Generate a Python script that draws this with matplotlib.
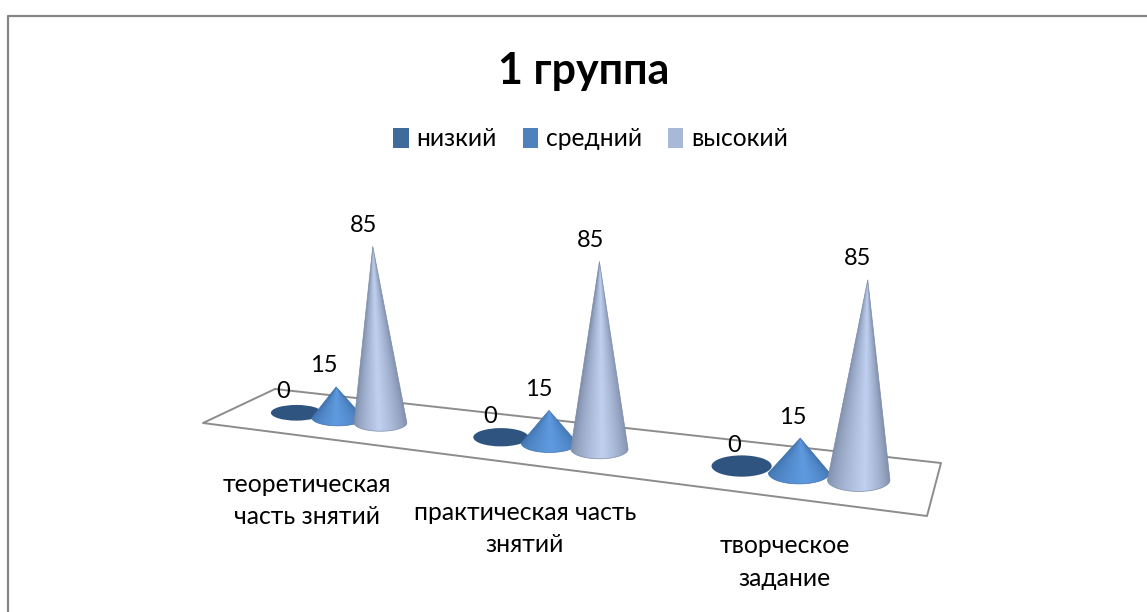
import numpy as np
import matplotlib
matplotlib.use('Agg')
import matplotlib.pyplot as plt
from matplotlib.patches import Ellipse, Patch, Polygon
from matplotlib.colors import to_rgb

plt.rcParams['font.family'] = ['Lato', 'Open Sans', 'DejaVu Sans']

categories = ['теоретическая\nчасть знятий', 'практическая часть\nзнятий', 'творческое\nзадание']
series = ['низкий', 'средний', 'высокий']
values = {
    'низкий': [0, 0, 0],
    'средний': [15, 15, 15],
    'высокий': [85, 85, 85],
}
title = '1 группа'

W, H = 1147, 612
# floor of the 3d box in pixels: back left, back right, front right, front left
floor = np.array([[275, 389], [941, 463], [927, 516], [203, 423]], dtype=float)
legend_colors = ['#3f6a9c', '#4f81bd', '#a8b8d8']
edge_colors = ['#2f5480', '#3f72ad', '#7d8ca8']
mid_colors = ['#2f5480', '#5f9ae0', '#c0d0f0']


def floor_matrix(pts):
    # homography from the unit square (u along categories, v back to front)
    src = [(0, 0), (1, 0), (1, 1), (0, 1)]
    A, b = [], []
    for (u, v), (x, y) in zip(src, pts):
        A.append([u, v, 1, 0, 0, 0, -u * x, -v * x])
        A.append([0, 0, 0, u, v, 1, -u * y, -v * y])
        b += [x, y]
    return np.append(np.linalg.solve(np.array(A), np.array(b)), 1).reshape(3, 3)


M = floor_matrix(floor)


def project(u, v):
    x, y, w = M @ np.array([u, v, 1.0])
    return x / w, y / w, 1.0 / w


def draw_cone(ax, cx, cy, rx, ry, height, lean, edge, mid, peak):
    edge = np.array(to_rgb(edge))
    mid = np.array(to_rgb(mid))
    if height == 0:
        ax.add_patch(Ellipse((cx, cy), 2 * rx, 2 * ry, fc=edge, ec='none', zorder=cx))
        return
    tx, ty = cx + lean, cy - height
    theta = np.linspace(np.pi, 0, 61)
    outline = np.column_stack([cx + rx * np.cos(theta), cy + ry * np.sin(theta)])
    outline = np.vstack([[tx, ty], outline])

    # shading runs along the cone's generators, so it narrows towards the tip
    x0, x1 = min(cx - rx, tx) - 1, max(cx + rx, tx) + 1
    y0, y1 = ty - 1, cy + ry + 1
    X, Y = np.meshgrid(np.arange(x0, x1, 0.5), np.arange(y0, y1, 0.5))
    frac = np.clip((Y - ty) / height, 0.01, None)
    t = np.clip((tx + (X - tx) / frac - (cx - rx)) / (2 * rx), 0, 1)
    d = np.where(t < peak, t / peak, (1 - t) / (1 - peak)) ** 0.7
    img = edge + (mid - edge) * d[..., None]
    im = ax.imshow(img, extent=(x0, x1, y1, y0), aspect='auto', interpolation='bilinear', zorder=cx)
    poly = Polygon(outline, closed=True, transform=ax.transData, fc='none', ec=edge,
                   lw=0.5, zorder=cx + 0.1)
    ax.add_patch(poly)
    im.set_clip_path(poly)


fig = plt.figure(figsize=(W / 100, H / 100), dpi=100)
ax = fig.add_axes([0, 0, 1, 1])

# chart frame, only left and top are inside the crop
ax.plot([7.5, 7.5, W], [H, 15.5, 15.5], color='#868686', lw=1.6, zorder=1)
ax.plot(*np.vstack([floor, floor[:1]]).T, color='#8c8c8c', lw=1.4, zorder=2)

ref_scale = project(0.5, 0.5)[2]
for c in range(len(categories)):
    for s, name in enumerate(series):
        u = (c + 0.525 + (s - 1) * 0.215) / len(categories)
        cx, cy, w = project(u, 0.52)
        scale = w / ref_scale
        rx = 28 * scale
        ry = rx * (0.30 + 0.07 * u)
        val = values[name][c]
        height = val * 2.17 * scale ** 0.75
        lean = (cx - 600) * 0.035 * val / 85
        draw_cone(ax, cx, cy, rx, ry, height, lean, edge_colors[s], mid_colors[s], 0.42 + 0.2 * u)
        ax.text(cx + 0.6 * lean - 14 + 8 * u, cy - height - 21, str(val), fontsize=17,
                ha='center', va='center', color='black', zorder=2000)
    fx, fy, _ = project((c + 0.5) / len(categories), 1)
    ax.text(fx + 7, fy + 65, categories[c], fontsize=17.8, ha='center', va='center',
            linespacing=1.5, color='black', zorder=2000)

ax.set_xlim(0, W)
ax.set_ylim(H, 0)
ax.axis('off')

ax.text(584, 71, title, fontsize=31, fontweight='bold', ha='center', va='center')
handles = [Patch(fc=col, ec='none', label=n) for col, n in zip(legend_colors, series)]
ax.legend(handles=handles, loc='center', bbox_to_anchor=(590.5 / W, 1 - 139 / H), ncols=3,
          frameon=False, fontsize=17.7, handlelength=0.64, handleheight=0.85,
          handletextpad=0.3, columnspacing=1.05)

fig.savefig('out.png', dpi=100)
